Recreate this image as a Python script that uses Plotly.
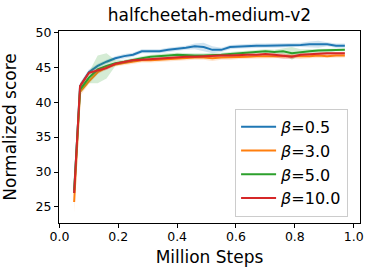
import numpy as np
import plotly.graph_objects as go

steps = [0.05, 0.07, 0.10, 0.13, 0.16, 0.19, 0.22, 0.25, 0.28, 0.31, 0.34, 0.37,
         0.40, 0.43, 0.46, 0.49, 0.52, 0.55, 0.58, 0.61, 0.64, 0.67, 0.70, 0.73,
         0.76, 0.79, 0.82, 0.85, 0.88, 0.91, 0.94, 0.97]

beta_05 = [27.0, 42.3, 44.3, 45.2, 45.8, 46.3, 46.6, 46.8, 47.3, 47.3, 47.3, 47.5,
           47.6, 47.8, 48.0, 47.9, 47.5, 47.5, 47.9, 48.0, 48.1, 48.1, 48.1, 48.1,
           48.1, 48.2, 48.2, 48.3, 48.3, 48.3, 48.1, 48.1]
beta_3 = [25.7, 41.5, 43.0, 44.3, 45.0, 45.4, 45.6, 45.8, 46.0, 46.0, 46.1, 46.2,
          46.2, 46.3, 46.4, 46.4, 46.3, 46.4, 46.4, 46.5, 46.5, 46.6, 46.6, 46.6,
          46.6, 46.6, 46.5, 46.6, 46.7, 46.6, 46.7, 46.7]
beta_5 = [27.4, 41.8, 43.5, 44.7, 45.2, 45.6, 45.8, 46.1, 46.3, 46.5, 46.55, 46.7,
          46.8, 46.7, 46.7, 46.7, 46.7, 46.8, 46.9, 47.0, 47.1, 47.3, 47.3, 47.2,
          47.3, 47.0, 47.2, 47.3, 47.4, 47.4, 47.5, 47.5]
beta_10 = [27.0, 42.3, 44.2, 44.6, 44.9, 45.5, 45.8, 46.0, 46.1, 46.2, 46.2, 46.4,
           46.4, 46.5, 46.5, 46.6, 46.6, 46.7, 46.7, 46.8, 46.8, 46.8, 46.9, 46.8,
           46.6, 46.5, 46.8, 46.9, 46.9, 47.0, 47.0, 47.0]

std_05 = [0.8, 0.5, 0.4, 0.3, 0.3, 0.3, 0.3, 0.3, 0.3, 0.3, 0.3, 0.3,
          0.3, 0.3, 0.4, 0.6, 0.5, 0.3, 0.3, 0.3, 0.3, 0.3, 0.3, 0.3,
          0.3, 0.3, 0.3, 0.4, 0.5, 0.3, 0.3, 0.3]
std_3 = [1.5, 0.6, 0.4, 0.3, 0.3, 0.3, 0.3, 0.3, 0.3, 0.3, 0.3, 0.3,
         0.3, 0.3, 0.3, 0.3, 0.4, 0.3, 0.3, 0.3, 0.3, 0.3, 0.3, 0.3,
         0.3, 0.3, 0.3, 0.3, 0.3, 0.3, 0.3, 0.3]
std_5 = [0.8, 0.6, 0.8, 2.0, 1.8, 0.4, 0.3, 0.3, 0.3, 0.3, 0.3, 0.3,
         0.3, 0.3, 0.3, 0.3, 0.3, 0.3, 0.3, 0.3, 0.3, 0.3, 0.3, 0.3,
         0.4, 0.9, 0.4, 0.3, 0.3, 0.3, 0.2, 0.2]
std_10 = [0.6, 0.4, 0.3, 0.3, 0.3, 0.2, 0.2, 0.2, 0.2, 0.2, 0.2, 0.2,
          0.2, 0.2, 0.2, 0.2, 0.2, 0.2, 0.2, 0.2, 0.2, 0.2, 0.2, 0.3,
          0.4, 0.3, 0.2, 0.2, 0.2, 0.2, 0.2, 0.2]

labels = ["<i>β</i>=0.5", "<i>β</i>=3.0", "<i>β</i>=5.0", "<i>β</i>=10.0"]
colors = ["#1f77b4", "#ff7f0e", "#2ca02c", "#d62728"]
fills = ["rgba(31,119,180,0.2)", "rgba(255,127,14,0.2)", "rgba(44,160,44,0.2)", "rgba(214,39,40,0.2)"]
x_ticks = [0.0, 0.2, 0.4, 0.6, 0.8, 1.0]
y_ticks = [25, 30, 35, 40, 45, 50]

FONT = "DejaVu Sans"
fig = go.Figure()
xs = np.array(steps)
for mean, std, name, c, fc in zip([beta_05, beta_3, beta_5, beta_10],
                                  [std_05, std_3, std_5, std_10],
                                  labels, colors, fills):
    m = np.array(mean)
    s = np.array(std)
    fig.add_trace(go.Scatter(
        x=np.concatenate([xs, xs[::-1]]),
        y=np.concatenate([m + s, (m - s)[::-1]]),
        fill="toself", fillcolor=fc, line=dict(width=0),
        mode="lines", showlegend=False, hoverinfo="skip"))
    fig.add_trace(go.Scatter(x=xs, y=m, mode="lines", name=name,
                             line=dict(color=c, width=2)))

fig.update_layout(
    width=374, height=277,
    margin=dict(l=59, r=14, t=31, b=54),
    paper_bgcolor="white", plot_bgcolor="white",
    font=dict(family=FONT, color="black", size=12.5),
    title=dict(text="halfcheetah-medium-v2", x=0.56, xanchor="center",
               y=0.945, yanchor="middle", font=dict(size=17, family=FONT)),
    legend=dict(x=0.585, y=0.595, xanchor="left", yanchor="top",
                bgcolor="rgba(255,255,255,0.8)", bordercolor="#cccccc",
                borderwidth=1, font=dict(size=16, family=FONT),
                itemwidth=35, tracegroupgap=0),
    showlegend=True,
)
fig.update_xaxes(range=[-0.0015, 1.0215], tickvals=x_ticks,
                 ticktext=[f"{v:.1f}" for v in x_ticks],
                 ticklabeloverflow="allow", ticklabelstandoff=-2, automargin=False,
                 showgrid=False, zeroline=False, showline=True, mirror=True,
                 linecolor="black", linewidth=1, ticks="outside", ticklen=4,
                 tickcolor="black",
                 title=dict(text="Million Steps", font=dict(size=17, family=FONT), standoff=8))
fig.update_yaxes(range=[22.7, 50.2], tickvals=y_ticks, automargin=False,
                 showgrid=False, zeroline=False, showline=True, mirror=True,
                 linecolor="black", linewidth=1, ticks="outside", ticklen=4,
                 tickcolor="black",
                 title=dict(text="Normalized score", font=dict(size=17, family=FONT), standoff=19))

fig.write_html(
    "out.html", config={"displayModeBar": False},
    post_script=("document.documentElement.style.overflow='hidden';"
                 "document.body.style.margin='0px';"
                 "document.body.style.overflow='hidden';"))
